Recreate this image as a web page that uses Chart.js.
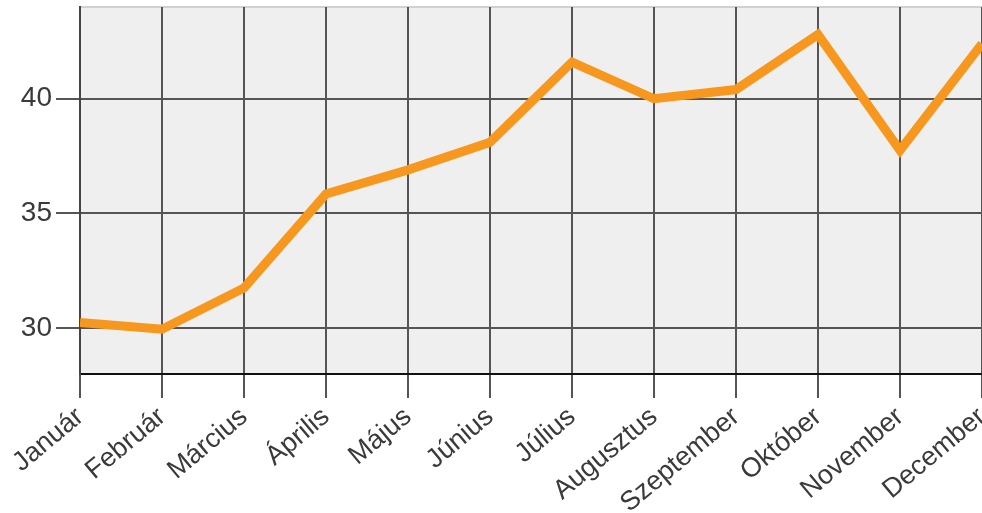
<!DOCTYPE html>
<html>
<head>
<meta charset="utf-8">
<script src="https://cdn.jsdelivr.net/npm/chart.js@4/dist/chart.umd.min.js"></script>
<style>
  html, body { margin: 0; padding: 0; background: #fff; }
  #wrap { width: 982px; height: 513px; position: relative; }
</style>
</head>
<body>
<div id="wrap"><canvas id="chart"></canvas></div>
<script>
const honapok = ['Január', 'Február', 'Március', 'Április', 'Május', 'Június',
  'Július', 'Augusztus', 'Szeptember', 'Október', 'November', 'December'];
const ertekek = [30.25, 29.95, 31.75, 35.85, 36.9, 38.1, 41.6, 40.0, 40.4, 42.8, 37.75, 42.4];
const yTicks = [30, 35, 40];
const yMin = 28;
const yMax = 44;

// szurke hatter + felso keret a rajzterulet korul
const hatter = {
  id: 'hatter',
  beforeDraw(chart) {
    const { ctx, chartArea: a } = chart;
    ctx.save();
    ctx.fillStyle = '#efefef';
    ctx.fillRect(a.left, a.top, a.right - a.left, a.bottom - a.top);
    ctx.strokeStyle = '#d0d0d0';
    ctx.lineWidth = 2;
    ctx.beginPath();
    ctx.moveTo(a.left, a.top);
    ctx.lineTo(a.right, a.top);
    ctx.stroke();
    ctx.restore();
  }
};

const betuX = { family: '"Liberation Sans", Arial, sans-serif', size: 27 };
const betuY = { family: '"Liberation Sans", Arial, sans-serif', size: 28 };

new Chart(document.getElementById('chart').getContext('2d'), {
  type: 'line',
  data: {
    labels: honapok,
    datasets: [{
      data: ertekek,
      borderColor: '#f7971d',
      borderWidth: 9,
      tension: 0,
      pointRadius: 0,
      fill: false,
      clip: 0
    }]
  },
  options: {
    responsive: true,
    maintainAspectRatio: false,
    animation: false,
    layout: { padding: { top: 7, right: 0, left: 0, bottom: 0 } },
    plugins: { legend: { display: false }, tooltip: { enabled: false } },
    scales: {
      x: {
        offset: false,
        afterFit: s => { s.height = 139; s.paddingLeft = 0; s.paddingRight = 0; },
        grid: { color: '#555', lineWidth: 2, tickLength: 24 },
        border: { color: '#111', width: 2 },
        ticks: { color: '#3a3a3a', font: betuX, minRotation: 40, maxRotation: 40, padding: 3, autoSkip: false }
      },
      y: {
        min: yMin,
        max: yMax,
        afterBuildTicks: s => { s.ticks = yTicks.map(v => ({ value: v })); },
        afterFit: s => { s.width = 80; s.paddingTop = 0; s.paddingBottom = 0; },
        grid: { color: '#555', lineWidth: 2, tickLength: 24 },
        border: { color: '#444', width: 2 },
        ticks: { color: '#3a3a3a', font: betuY, padding: 4 }
      }
    }
  },
  plugins: [hatter]
});
</script>
</body>
</html>
